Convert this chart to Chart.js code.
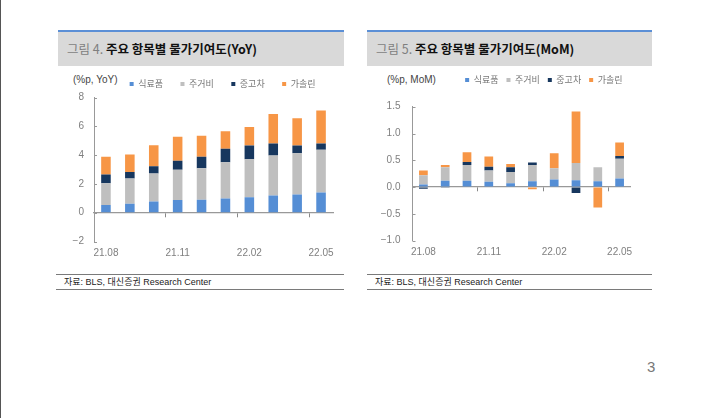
<!DOCTYPE html>
<html>
<head>
<meta charset="utf-8">
<script src="https://cdn.jsdelivr.net/npm/chart.js@4.4.1/dist/chart.umd.min.js"></script>
<style>
body { margin: 0; width: 718px; height: 418px; background: #fff; position: relative; overflow: hidden;
       font-family: 'Liberation Sans', 'Noto Sans CJK KR', sans-serif; }
.edge { position: absolute; left: 0; top: 0; width: 1px; height: 418px; background: #555; }
.head { position: absolute; top: 30px; height: 36px; background: #d9d9d9; border-top: 2px solid #5b8fd6;
        box-sizing: border-box; font-family: 'Noto Sans CJK KR', sans-serif; font-size: 12.5px; line-height: 33px; padding-left: 9px; }
.head .no { color: #7f7f7f; }
.head b { color: #111; }
.unit { position: absolute; font-size: 10px; color: #444; }
.src { position: absolute; top: 274px; height: 16px; border-top: 1px solid #7a7a7a; border-bottom: 1px solid #7a7a7a;
       box-sizing: border-box; font-size: 9px; line-height: 14px; padding-left: 8px; color: #222; }
.box { position: absolute; }
.pg { position: absolute; left: 647px; top: 358px; font-size: 15px; color: #777; }
</style>
</head>
<body>
<div class="edge"></div>

<div class="head" style="left:58px;width:286px"><span class="no">그림 4.</span> <b>주요 항목별 물가기여도(YoY)</b></div>
<div class="unit" style="left:73px;top:74px">(%p, YoY)</div>
<div class="box" style="left:58px;top:50px;width:286px;height:216px"><canvas id="yoy" width="286" height="216"></canvas></div>
<div class="src" style="left:56px;width:288px">자료: BLS, 대신증권 Research Center</div>

<div class="head" style="left:367px;width:285px"><span class="no">그림 5.</span> <b>주요 항목별 물가기여도(MoM)</b></div>
<div class="unit" style="left:387px;top:74px">(%p, MoM)</div>
<div class="box" style="left:367px;top:50px;width:285px;height:216px"><canvas id="mom" width="285" height="216"></canvas></div>
<div class="src" style="left:367px;width:285px">자료: BLS, 대신증권 Research Center</div>

<div class="pg">3</div>

<script>
const months = ['21.08', '21.09', '21.10', '21.11', '21.12', '22.01', '22.02', '22.03', '22.04', '22.05'];
const seriesNames = ['식료품', '주거비', '중고차', '가솔린'];
const seriesColors = ['#558ED5', '#BFBFBF', '#17375E', '#F79646'];

// YoY contributions (%p)
const yoyFood    = [0.53, 0.63, 0.77, 0.88, 0.90, 0.98, 1.07, 1.19, 1.26, 1.40];
const yoyHousing = [1.51, 1.74, 1.96, 2.10, 2.19, 2.53, 2.65, 2.79, 2.86, 2.97];
const yoyCar     = [0.62, 0.46, 0.50, 0.62, 0.79, 0.93, 0.95, 0.83, 0.55, 0.44];
const yoyGas     = [1.23, 1.22, 1.45, 1.68, 1.47, 1.21, 1.28, 2.05, 1.89, 2.28];

// MoM contributions (%p)
const momFood    = [0.05, 0.12, 0.12, 0.10, 0.07, 0.11, 0.14, 0.13, 0.11, 0.16];
const momHousing = [0.17, 0.25, 0.29, 0.21, 0.21, 0.30, 0.21, 0.32, 0.26, 0.37];
const momCar     = [-0.03, -0.01, 0.06, 0.07, 0.09, 0.05, 0.00, -0.11, 0.00, 0.05];
const momGas     = [0.09, 0.04, 0.18, 0.19, 0.06, -0.04, 0.28, 0.96, -0.38, 0.25];

// axis ranges
const yoyAxis = [-2, 8, 2];
const momAxis = [-1, 1.5, 0.5];

// small inward tick marks on the y axis
const innerTicks = {
    id: 'innerTicks',
    afterDraw(chart) {
        const y = chart.scales.y;
        const ctx = chart.ctx;
        const x = chart.chartArea.left;
        ctx.save();
        ctx.strokeStyle = '#999';
        ctx.lineWidth = 1;
        for (let t of y.ticks) {
            const py = Math.round(y.getPixelForValue(t.value)) + 0.5;
            ctx.beginPath();
            ctx.moveTo(x, py);
            ctx.lineTo(x + 3, py);
            ctx.stroke();
        }
        ctx.restore();
    }
};

// extra room under the legend
const legendGap = {
    id: 'legendGap',
    beforeInit(chart, args, opts) {
        const fit = chart.legend.fit;
        chart.legend.fit = function () {
            fit.bind(chart.legend)();
            this.height += opts.gap;
        };
    }
};

function drawStack(id, series, axis, decimals, cfg) {
    let datasets = [];
    for (let i = 0; i < series.length; i++) {
        datasets.push({
            label: seriesNames[i],
            data: series[i],
            backgroundColor: seriesColors[i],
            borderWidth: 0,
            xAxisID: 'x',
            yAxisID: 'y',
            categoryPercentage: 1,
            barPercentage: 0.4
        });
    }

    new Chart(document.getElementById(id), {
        type: 'bar',
        data: { labels: months, datasets: datasets },
        plugins: [innerTicks, legendGap],
        options: {
            responsive: false,
            animation: false,
            layout: { padding: { top: cfg.top, right: cfg.right, left: 0, bottom: 0 } },
            plugins: {
                legendGap: { gap: cfg.gap },
                tooltip: { enabled: false },
                legend: {
                    position: 'top',
                    align: 'end',
                    fullSize: false,
                    labels: {
                        boxWidth: 4,
                        boxHeight: 4,
                        padding: cfg.legendPad,
                        color: '#777',
                        font: { size: 9, family: "'Noto Sans CJK KR', sans-serif" }
                    }
                }
            },
            scales: {
                x: {
                    stacked: true,
                    offset: true,
                    grid: { display: false, drawTicks: false },
                    border: { display: false },
                    ticks: {
                        autoSkip: false,
                        maxRotation: 0,
                        padding: 6,
                        color: '#7f7f7f',
                        font: { size: 10 },
                        callback: (v, i) => i % 3 === 0 ? months[i] : ''
                    },
                    afterFit: (s) => { s.height = cfg.xh; }
                },
                zero: {
                    type: 'category',
                    axis: 'x',
                    position: { y: 0 },
                    offset: true,
                    grid: {
                        offset: true,
                        drawOnChartArea: false,
                        drawTicks: true,
                        tickLength: 4,
                        color: (c) => (c.index % 3 === 0 && c.index > 0) ? '#888' : 'rgba(0,0,0,0)'
                    },
                    border: { color: '#999', width: 1.3 },
                    ticks: { display: false }
                },
                y: {
                    stacked: true,
                    min: axis[0],
                    max: axis[1],
                    grid: { drawOnChartArea: false, drawTicks: false },
                    border: { color: '#999' },
                    ticks: {
                        stepSize: axis[2],
                        padding: cfg.yPad,
                        color: '#7f7f7f',
                        font: { size: 10 },
                        callback: (v) => (v < 0 ? '\u2212' : '') + Math.abs(v).toFixed(decimals)
                    },
                    afterFit: (s) => { s.width = cfg.yw; }
                }
            }
        }
    });
}

drawStack('yoy', [yoyFood, yoyHousing, yoyCar, yoyGas], yoyAxis, 0,
    { top: 12, right: 11, gap: -1, legendPad: 17.5, xh: 24.5, yw: 36, yPad: 10 });
drawStack('mom', [momFood, momHousing, momCar, momGas], momAxis, 1,
    { top: 17.5, right: 21.5, gap: 12.2, legendPad: 8, xh: 25.3, yw: 45.5, yPad: 12 });
</script>
</body>
</html>
